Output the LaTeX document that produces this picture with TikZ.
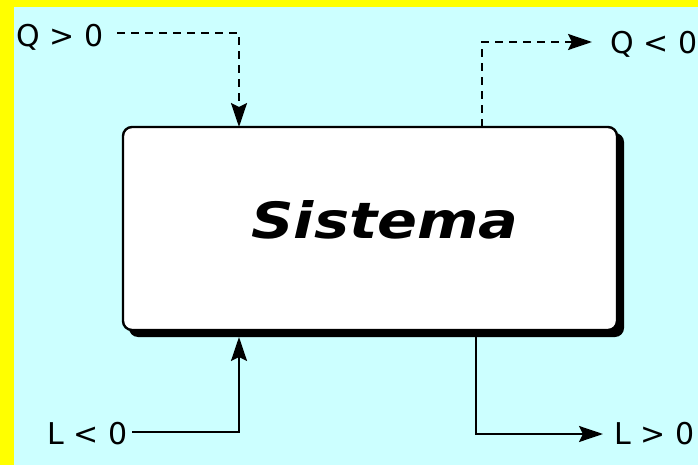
\documentclass[tikz,border=0pt]{standalone}
\usepackage{fontspec}
\setmainfont{DejaVu Sans}
\usetikzlibrary{arrows.meta}
\definecolor{bgcyan}{HTML}{CCFFFF}
\definecolor{bgyellow}{HTML}{FFFF00}
\tikzset{
  lbl/.style={font=\fontsize{30}{32}\selectfont, inner sep=0pt},
  flow/.style={line width=2.2pt, -{Stealth[length=24pt,width=16pt,inset=4pt]}},
  heat/.style={flow, dash pattern=on 8pt off 6pt},
}
\begin{document}
\begin{tikzpicture}[x=1pt,y=-1pt]
\useasboundingbox (0,0) rectangle (698,465);
\fill[bgyellow] (0,0) rectangle (698,465);
\fill[bgcyan] (14,7) rectangle (698,465);
\fill[black, rounded corners=9pt] (129,133) rectangle (624,337);
\node[draw=black, line width=2.4pt, fill=white, rounded corners=9pt,
      minimum width=494pt, minimum height=203pt, inner sep=0pt] (sys) at (370,228.5) {};
\node[anchor=base, inner sep=0pt, font=\fontsize{50}{54}\selectfont\bfseries\itshape]
      (title) at (385,238) {\scalebox{1.18}[1]{Sistema}};
\node[lbl, anchor=west] (q1) at (16,37) {Q > 0};
\node[lbl, anchor=west] (q2) at (610,44) {Q < 0};
\node[lbl, anchor=west] (l1) at (47,434) {L < 0};
\node[lbl, anchor=west] (l2) at (614,434) {L > 0};
\coordinate (qin) at (239,127);
\coordinate (qout) at (482,127);
\coordinate (lin) at (239,337);
\coordinate (lout) at (476,337);
\draw[heat] ([xshift=14pt]q1.east |- 0,33) -| (qin);
\draw[heat] (qout) |- ([xshift=-18pt]q2.west |- 0,42);
\draw[flow] ([xshift=5pt]l1.east |- 0,432) -| (lin);
\draw[flow] (lout) |- ([xshift=-11pt]l2.west |- 0,434);
\end{tikzpicture}
\end{document}
